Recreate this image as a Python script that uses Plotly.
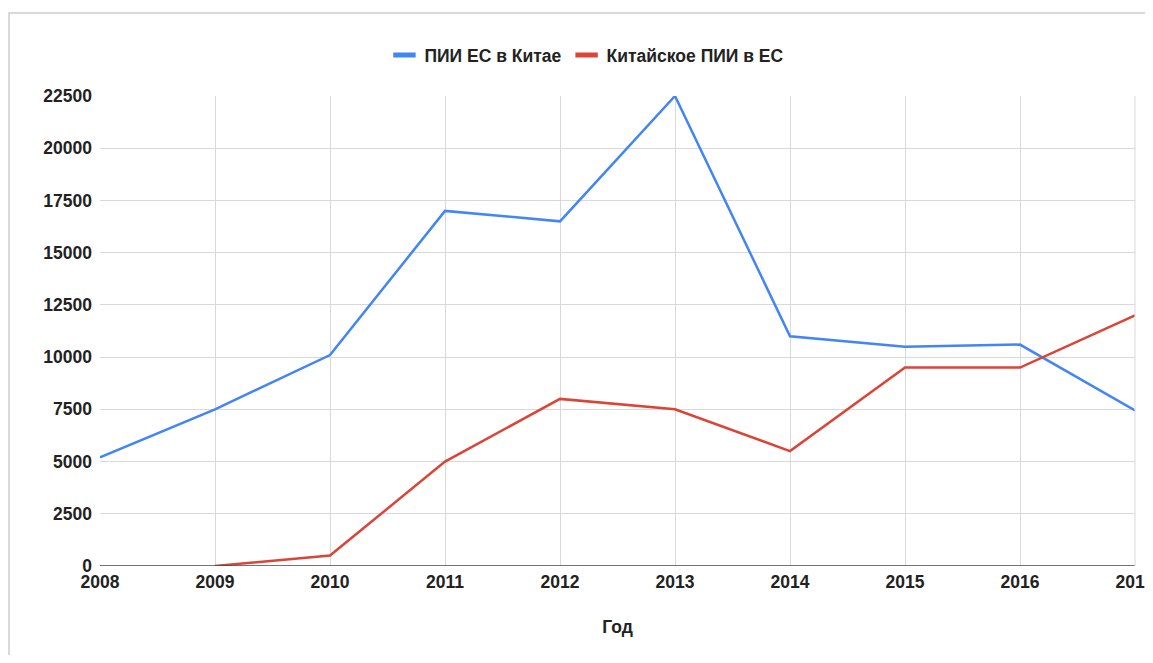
import plotly.graph_objects as go

years = [2008, 2009, 2010, 2011, 2012, 2013, 2014, 2015, 2016, 2017]
eu_in_china = [5200, 7500, 10100, 17000, 16500, 22500, 11000, 10500, 10600, 7450]
china_years = [2009, 2010, 2011, 2012, 2013, 2014, 2015, 2016, 2017]
china_in_eu = [0, 500, 5000, 8000, 7500, 5500, 9500, 9500, 12000]
y_ticks = [0, 2500, 5000, 7500, 10000, 12500, 15000, 17500, 20000, 22500]
series_names = ["ПИИ ЕС в Китае", "Китайское ПИИ в ЕС"]
series_colors = ["#4285F4", "#DB4437"]

font_family = "Liberation Sans, Arial, sans-serif"
fsize = 17.5

fig = go.Figure()
fig.add_trace(go.Scatter(x=years, y=eu_in_china, mode="lines", name=series_names[0],
                         line=dict(color=series_colors[0], width=2.5), showlegend=False))
fig.add_trace(go.Scatter(x=china_years, y=china_in_eu, mode="lines", name=series_names[1],
                         line=dict(color=series_colors[1], width=2.5), showlegend=False))
# legend entries with short thick bar symbols
for name, col in zip(series_names, series_colors):
    fig.add_trace(go.Scatter(x=[None], y=[None], mode="markers", name=name,
                             marker=dict(symbol="line-ew", size=16,
                                         line=dict(color=col, width=5))))

fig.update_layout(
    width=1145, height=647,
    margin=dict(l=92, r=18, t=88, b=89),
    paper_bgcolor="white", plot_bgcolor="white",
    font=dict(family=font_family, color="#222222", size=fsize),
    legend=dict(orientation="h", x=0.4705, xanchor="center", y=1.087, yanchor="middle",
                font=dict(size=fsize, color="#222222", weight="bold"),
                itemsizing="trace", tracegroupgap=0),
    xaxis=dict(range=[2008, 2017], tickvals=years, ticktext=[str(y) for y in years],
               showgrid=True, gridcolor="#d9d9d9", gridwidth=1,
               showline=False, zeroline=False, ticks="", automargin=False,
               ticklabeloverflow="allow", ticklabelstandoff=3,
               tickfont=dict(size=fsize, color="#222222", weight="bold"),
               title=dict(text="Год", font=dict(size=fsize, color="#222222", weight="bold"), standoff=30)),
    yaxis=dict(range=[0, 22500], tickvals=y_ticks, ticktext=[str(v) for v in y_ticks],
               showgrid=True, gridcolor="#d9d9d9", gridwidth=1,
               zeroline=False, showline=False, ticks="", automargin=False,
               ticklabelstandoff=7,
               tickfont=dict(size=fsize, color="#222222", weight="bold")),
)

# bottom axis line (darker)
fig.add_shape(type="line", xref="paper", yref="y", x0=0, x1=1, y0=0, y1=0,
              line=dict(color="#444444", width=1.5))
# right edge grid line
fig.add_shape(type="line", xref="paper", yref="paper", x0=1, x1=1, y0=0, y1=1,
              line=dict(color="#d9d9d9", width=1))
# outer border of the chart screenshot
fig.add_shape(type="rect", xref="paper", yref="paper", x0=-0.0879, x1=1.2, y0=-0.4, y1=1.1766,
              line=dict(color="#cccccc", width=1.5), fillcolor="rgba(0,0,0,0)", layer="below")

fig.write_html("out.html")
